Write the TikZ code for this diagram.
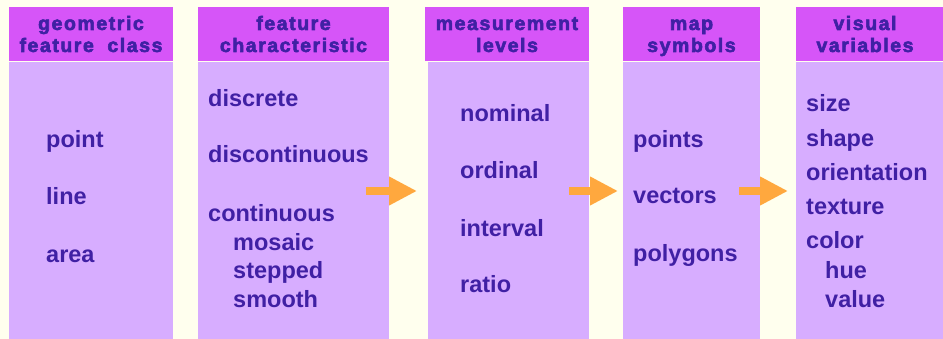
\documentclass[tikz,border=0pt]{standalone}
\usepackage{fontspec}
\usetikzlibrary{arrows.meta}
\newfontfamily\hdfont[LetterSpace=8,FakeBold=3]{Liberation Sans Bold}
\newfontfamily\bdfont{Liberation Sans Bold}
\definecolor{bgc}{HTML}{FFFFEE}
\definecolor{hdc}{HTML}{D655F8}
\definecolor{bdc}{HTML}{D7ADFF}
\definecolor{txc}{HTML}{4020A4}
\definecolor{arc}{HTML}{FFA83E}
\tikzset{
  hdbox/.style={fill=hdc},
  bdbox/.style={fill=bdc},
  hdtext/.style={text=txc,font=\hdfont\fontsize{19.5}{22}\selectfont,align=center,inner sep=0pt,anchor=base},
  item/.style={text=txc,font=\bdfont\fontsize{23.5}{28}\selectfont,inner sep=0pt,anchor=base west},
  flow/.style={draw=arc,line width=8pt,-{Triangle[width=27pt,length=28pt]}}
}
\begin{document}
\begin{tikzpicture}[x=1pt,y=-1pt]
\fill[bgc] (0,0) rectangle (943,339);
\useasboundingbox (0,0) rectangle (943,339);
% columns
\fill[hdbox] (9,7) rectangle (173,61);
\fill[bdbox] (9,62) rectangle (173,339);
\fill[hdbox] (198,7) rectangle (389,61);
\fill[bdbox] (198,62) rectangle (389,339);
\fill[hdbox] (425,7) rectangle (589,61);
\fill[bdbox] (428,62) rectangle (589,339);
\fill[hdbox] (623,7) rectangle (760,61);
\fill[bdbox] (623,62) rectangle (760,339);
\fill[hdbox] (796,7) rectangle (943,61);
\fill[bdbox] (796,62) rectangle (943,339);
% headers
\node[hdtext] (h1a) at (91,30) {geometric};
\node[hdtext] (h1b) at (91,52) {\makebox[143pt][s]{feature\hfill class}};
\node[hdtext] (h2a) at (293.5,30) {feature};
\node[hdtext] (h2b) at (293.5,52) {characteristic};
\node[hdtext] (h3a) at (507,30) {measurement};
\node[hdtext] (h3b) at (507,52) {levels};
\node[hdtext] (h4a) at (691.5,30) {map};
\node[hdtext] (h4b) at (691.5,52) {symbols};
\node[hdtext] (h5a) at (865,30) {visual};
\node[hdtext] (h5b) at (865,52) {variables};
% column 1
\node[item] (c1a) at (46,148) {point};
\node[item] (c1b) at (46,205) {line};
\node[item] (c1c) at (46,263) {area};
% column 2
\node[item] (c2a) at (208,107) {discrete};
\node[item] (c2b) at (208,163) {discontinuous};
\node[item] (c2c) at (208,222) {continuous};
\node[item] (c2d) at (233,251) {mosaic};
\node[item] (c2e) at (233,279) {stepped};
\node[item] (c2f) at (233,308) {smooth};
% column 3
\node[item] (c3a) at (460,122) {nominal};
\node[item] (c3b) at (460,179) {ordinal};
\node[item] (c3c) at (460,237) {interval};
\node[item] (c3d) at (460,293) {ratio};
% column 4
\node[item] (c4a) at (633,148) {points};
\node[item] (c4b) at (633,204) {vectors};
\node[item] (c4c) at (633,262) {polygons};
% column 5
\node[item] (c5a) at (806,112) {size};
\node[item] (c5b) at (806,147) {shape};
\node[item] (c5c) at (806,181) {orientation};
\node[item] (c5d) at (806,215) {texture};
\node[item] (c5e) at (806,249) {color};
\node[item] (c5f) at (825,279) {hue};
\node[item] (c5g) at (825,308) {value};
% arrows
\coordinate (a1s) at (366,191);
\coordinate (a1e) at (417,191);
\coordinate (a2s) at (569,191);
\coordinate (a2e) at (618,191);
\coordinate (a3s) at (739,191);
\coordinate (a3e) at (788,191);
\draw[flow] (a1s) -- (a1e);
\draw[flow] (a2s) -- (a2e);
\draw[flow] (a3s) -- (a3e);
\end{tikzpicture}
\end{document}
